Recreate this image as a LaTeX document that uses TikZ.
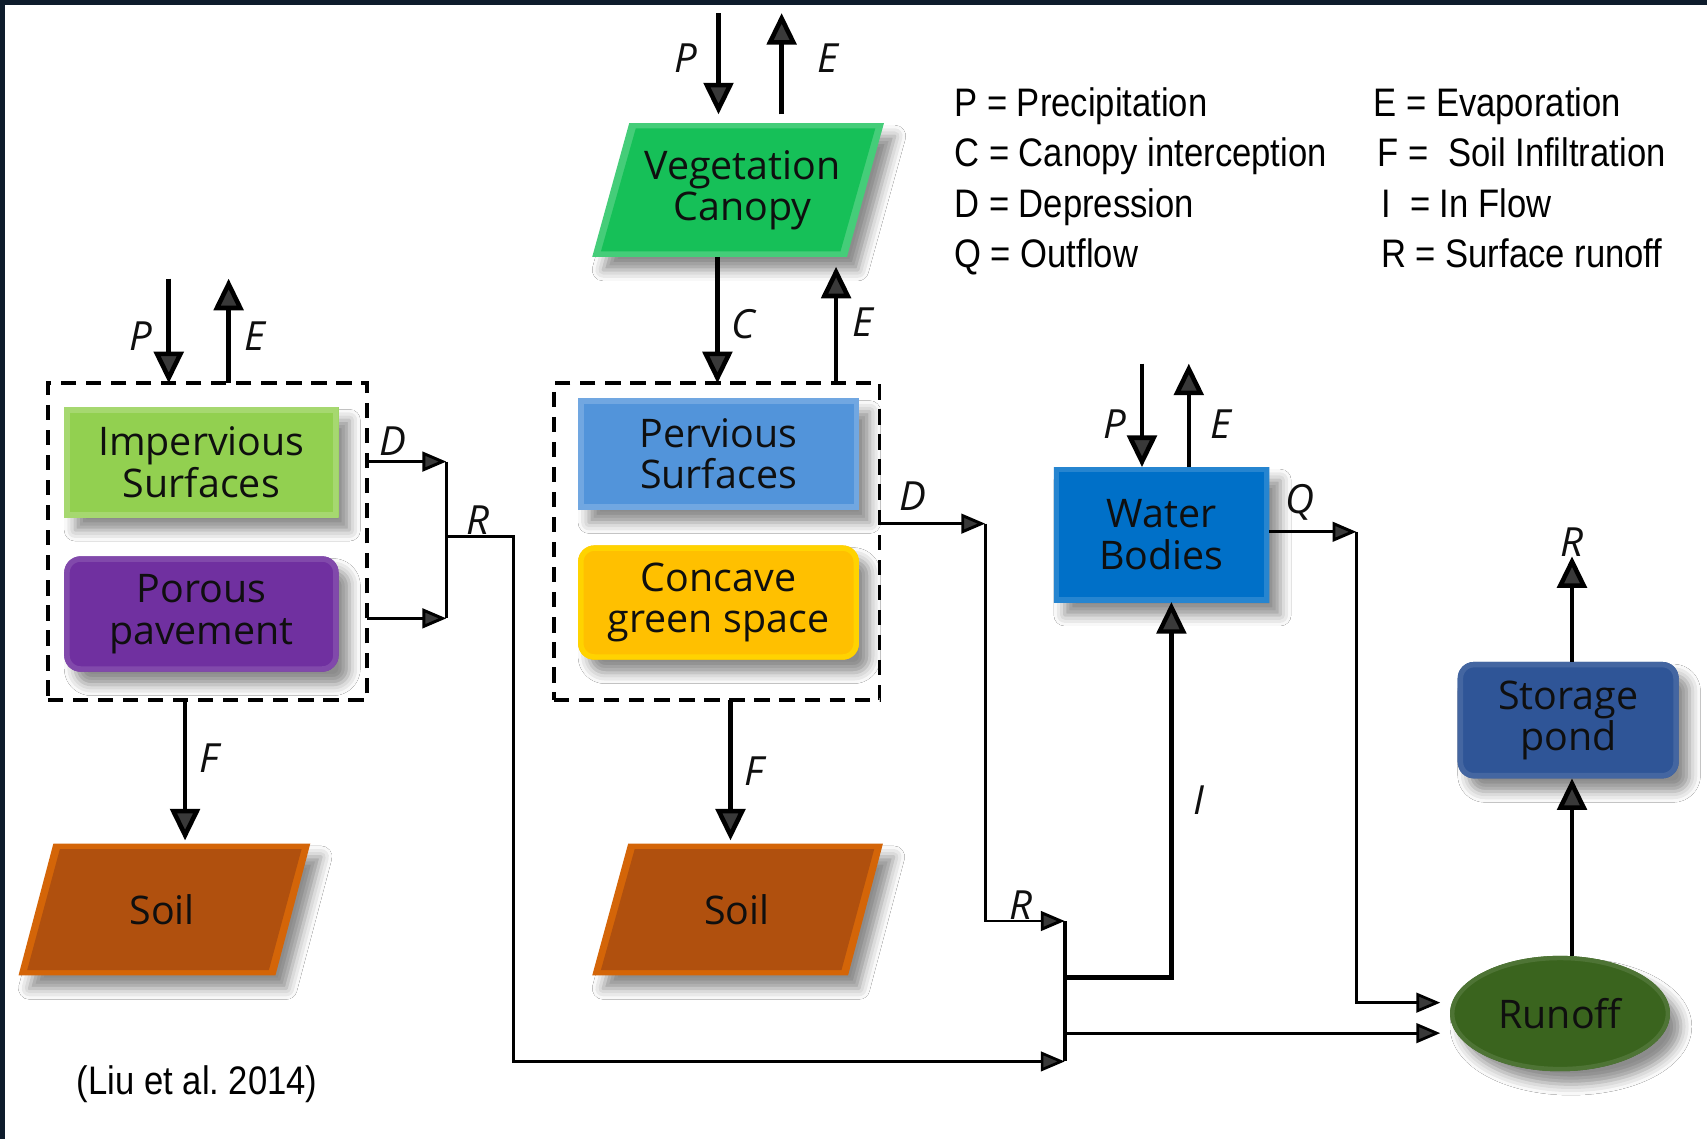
\documentclass[tikz,border=0pt]{standalone}
\usepackage{fontspec}
\setmainfont{Open Sans}
\newfontfamily\legfont[FakeStretch=0.87]{Liberation Sans}
\usetikzlibrary{arrows.meta,shadows.blur,shapes.geometric}
\definecolor{framec}{RGB}{14,28,44}
\definecolor{vegc}{RGB}{22,192,88}
\definecolor{impc}{RGB}{146,208,80}
\definecolor{porc}{RGB}{112,48,160}
\definecolor{pervc}{RGB}{82,148,218}
\definecolor{concc}{RGB}{255,192,0}
\definecolor{soilc}{RGB}{176,80,14}
\definecolor{waterc}{RGB}{0,112,200}
\definecolor{pondc}{RGB}{47,85,151}
\definecolor{runc}{RGB}{58,100,30}
\definecolor{txt}{RGB}{15,15,15}
\begin{document}
\begin{tikzpicture}[x=0.1mm,y=-0.1mm,
  shd/.style={blur shadow={shadow xshift=1mm,shadow yshift=-1.2mm,shadow opacity=45,shadow blur radius=1mm}},
  box/.style={draw=none,outer sep=0pt,inner sep=0pt,align=center,text=txt,
    font=\fontsize{10.3}{10.8}\selectfont,shd},
  bevel/.style={path picture={\draw[line width=1mm,draw=#1]
    (path picture bounding box.south west) rectangle (path picture bounding box.north east);}},
  ptext/.style={draw=none,outer sep=0pt,inner sep=0pt,align=center,text=txt,
    font=\fontsize{10.3}{10.8}\selectfont},
  grp/.style={draw=black,line width=0.34mm,dash pattern=on 1.4mm off 0.9mm,outer sep=0pt,inner sep=0pt},
  lab/.style={font=\fontsize{10.5}{10.5}\selectfont\itshape,inner sep=0pt,text=txt},
  leg/.style={font=\legfont\fontsize{10.4}{12}\selectfont,anchor=base west,inner sep=0pt,text=black},
  thk/.style={line width=0.42mm,-{Triangle[length=2.9mm,width=2.7mm]}},
  thn/.style={line width=0.27mm,-{Triangle[length=2.2mm,width=1.8mm]}},
  ln/.style={line width=0.25mm}]
\useasboundingbox (0,0) rectangle (1568,1046);
\fill[white] (0,0) rectangle (1568,1046);
\fill[framec] (0,0) rectangle (1568,4.5);
\fill[framec] (0,0) rectangle (4.5,1046);

% ---- parallelogram shapes
\path[fill=vegc!80!white,shd] (578,113) -- (812,113) -- (778,236) -- (544,236) -- cycle;
\fill[vegc] (584,118) -- (804,118) -- (772,231) -- (552,231) -- cycle;
\node[ptext,minimum width=23.4mm,minimum height=12.3mm] (veg) at (682,174.5) {Vegetation\\Canopy};

\path[fill=soilc!55!orange,shd] (49,775) -- (285,775) -- (253,896) -- (17,896) -- cycle;
\fill[soilc] (55,780) -- (277,780) -- (247,891) -- (25,891) -- cycle;
\node[ptext,minimum width=23.6mm,minimum height=12.1mm] (soilL) at (149,835.5) {Soil};

\path[fill=soilc!55!orange,shd] (577,775) -- (811,775) -- (779,896) -- (544,896) -- cycle;
\fill[soilc] (583,780) -- (803,780) -- (773,891) -- (552,891) -- cycle;
\node[ptext,minimum width=23.4mm,minimum height=12.1mm] (soilM) at (677,835.5) {Soil};

% ---- boxes
\node[box,fill=impc,bevel=impc!82!white,minimum width=25.2mm,minimum height=10.1mm] (imp) at (185,424.5) {Impervious\\Surfaces};
\node[box,fill=porc,bevel=porc!88!white,rounded corners=1.5mm,minimum width=25.2mm,minimum height=10.6mm] (por) at (185,564) {Porous\\pavement};
\node[box,fill=pervc,bevel=pervc!82!white,minimum width=25.8mm,minimum height=10.2mm] (perv) at (660,417) {Pervious\\Surfaces};
\node[box,fill=concc,bevel=concc!70!yellow,rounded corners=1.5mm,minimum width=25.8mm,minimum height=10.5mm] (conc) at (660,553.5) {Concave\\green space};
\node[box,fill=waterc,bevel=waterc!85!white,minimum width=19.8mm,minimum height=12.4mm] (water) at (1067,491) {Water\\Bodies};
\node[box,fill=pondc,bevel=pondc!90!white,rounded corners=1.5mm,minimum width=20.3mm,minimum height=10.7mm] (pond) at (1440.5,661.5) {Storage\\pond};
\node[box,ellipse,fill=runc,minimum width=20.2mm,minimum height=10.6mm,
  path picture={\draw[line width=0.8mm,draw=runc!90!white] (path picture bounding box.center) ellipse [x radius=10.1mm,y radius=5.3mm];}] (runoff) at (1433,931) {Runoff};

% ---- dashed groups
\node[grp,minimum width=29.3mm,minimum height=29.1mm] (grpL) at (190.5,497.5) {};
\node[grp,minimum width=29.9mm,minimum height=29.1mm] (grpM) at (658.5,497.5) {};

% ---- coordinates
\coordinate (vP) at (660,12);
\coordinate (vE) at (718,12);
\coordinate (cC) at (659,300);
\coordinate (cE) at (768,300);
\coordinate (lP) at (155,256);
\coordinate (lE) at (210,256);
\coordinate (lD) at (410,424);
\coordinate (lPo) at (410,568);
\coordinate (rL) at (410,493);
\coordinate (rLc) at (472,493);
\coordinate (jB) at (978,975);
\coordinate (lF) at (170,700);
\coordinate (mF) at (671,700);
\coordinate (mD) at (905,481);
\coordinate (jR) at (978,846);
\coordinate (jI) at (978,898);
\coordinate (iC) at (1076,898);
\coordinate (jRun) at (978,949);
\coordinate (runB) at (1323,949);
\coordinate (qC) at (1246,488.5);
\coordinate (runQ) at (1323,921);
\coordinate (pc) at (1444,800);
\coordinate (pR) at (1444,511);
\coordinate (wP) at (1049,334);
\coordinate (wE) at (1092,334);

% ---- connectors
\draw[thk,shorten >=0.8mm] (vP) -- (vP |- veg.north);
\draw[thk,shorten <=0.8mm] (vE |- veg.north) -- (vE);
\draw[thk] (cC |- veg.south) -- (cC |- grpM.north);
\draw[thk,shorten >=0.9mm] (cE |- grpM.north) -- (cE |- veg.south);
\draw[thk] (lP) -- (lP |- grpL.north);
\draw[thk] (lE |- grpL.north) -- (lE);
\draw[thn] (lD -| grpL.east) -- (lD);
\draw[thn] (lPo -| grpL.east) -- (lPo);
\draw[line width=0.3mm] (lD) -- (lPo);
\draw[thn,line width=0.25mm] (rL) -- (rLc) |- (jB);
\draw[thk,shorten >=0.3mm] (lF |- grpL.south) -- (lF |- soilL.north);
\draw[thk,shorten >=0.3mm] (mF |- grpM.south) -- (mF |- soilM.north);
\draw[thn] (mD -| grpM.east) -- (mD);
\draw[thn,line width=0.27mm] (mD) |- (jR);
\draw[line width=0.33mm] (jR) -- (jB);
\draw[thk,line width=0.4mm] (jI) -- (iC) -- (iC |- water.south);
\draw[thn,line width=0.25mm] (jRun) -- (runB);
\draw[thn] (qC -| water.east) -- (qC);
\draw[thn,line width=0.25mm] (qC) |- (runQ);
\draw[thk] (pc |- runoff.north) -- (pc |- pond.south);
\draw[thk] (pc |- pond.north) -- (pR);
\draw[thk] (wP) -- (wP |- water.north);
\draw[thk] (wE |- water.north) -- (wE);

% ---- flow labels
\node[lab] (lbvP) at (630,53) {P};
\node[lab] (lbvE) at (760,53) {E};
\node[lab] (lbC) at (683,298) {C};
\node[lab] (lbE2) at (793,296) {E};
\node[lab] (lblP) at (129,309) {P};
\node[lab] (lblE) at (234,309) {E};
\node[lab] (lblD) at (361,405) {D};
\node[lab] (lblR) at (439,478) {R};
\node[lab] (lblF) at (192,696) {F};
\node[lab] (lbmF) at (693,708) {F};
\node[lab] (lbmD) at (839,456) {D};
\node[lab] (lbmR) at (938,831) {R};
\node[lab] (lbwP) at (1024,390) {P};
\node[lab] (lbwE) at (1121,390) {E};
\node[lab] (lbQ) at (1194,461) {Q};
\node[lab] (lbI) at (1101,735) {I};
\node[lab] (lbpR) at (1444,498) {R};

% ---- legend
\node[leg] (g1) at (876,107) {P = Precipitation};
\node[leg] (g2) at (876,153) {C = Canopy interception};
\node[leg] (g3) at (876,200) {D = Depression};
\node[leg] (g4) at (876,246) {Q = Outflow};
\node[leg] (g5) at (1261,107) {E = Evaporation};
\node[leg] (g6) at (1265,153) {F =\ \ Soil Infiltration};
\node[leg] (g7) at (1268,200) {I\ \ = In Flow};
\node[leg] (g8) at (1268,246) {R = Surface runoff};
\node[leg] (cite) at (70,1005) {(Liu et al.\ 2014)};
\end{tikzpicture}
\end{document}
